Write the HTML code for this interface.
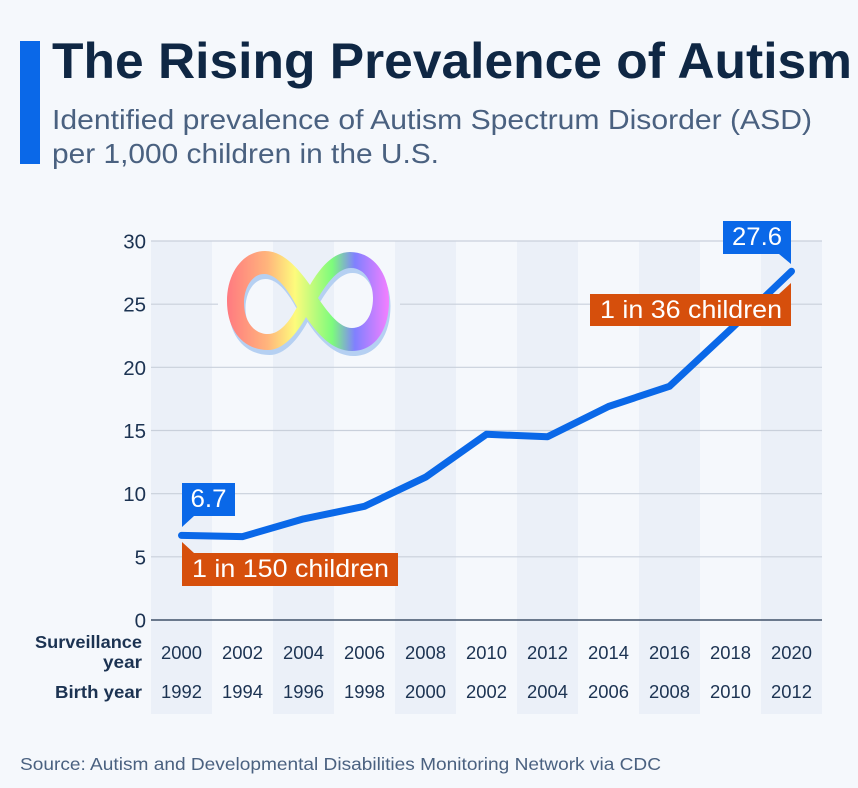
<!DOCTYPE html>
<html lang="en">
<head>
<meta charset="utf-8">
<title>The Rising Prevalence of Autism</title>
<style>
html,body{margin:0;padding:0;background:#f5f8fc;}
svg{display:block;font-family:"Liberation Sans",Arial,sans-serif;}
</style>
</head>
<body>
<svg id="chart" width="858" height="788" viewBox="0 0 858 788" xmlns="http://www.w3.org/2000/svg">
  <defs>
    <linearGradient id="rainbow" gradientUnits="userSpaceOnUse" x1="227" y1="0" x2="389" y2="0">
      <stop offset="0" stop-color="#ff7a80"/>
      <stop offset="0.25" stop-color="#ffb57c"/>
      <stop offset="0.42" stop-color="#fdfb7c"/>
      <stop offset="0.65" stop-color="#7dfb7c"/>
      <stop offset="0.79" stop-color="#8080ff"/>
      <stop offset="1" stop-color="#f480ff"/>
    </linearGradient>
  </defs>
  <rect x="0" y="0" width="858" height="788" fill="#f5f8fc"/>
  <rect x="20" y="41" width="20" height="123" fill="#0a68e8"/>
  <text x="52" y="78" font-size="50" font-weight="700" fill="#0f2744" textLength="800" lengthAdjust="spacingAndGlyphs">The Rising Prevalence of Autism</text>
  <text x="52" y="129" font-size="28" fill="#4a6180" textLength="760" lengthAdjust="spacingAndGlyphs">Identified prevalence of Autism Spectrum Disorder (ASD)</text>
  <text x="52" y="163" font-size="28" fill="#4a6180" textLength="387" lengthAdjust="spacingAndGlyphs">per 1,000 children in the U.S.</text>

  <g id="bands"></g>
  <g id="grid"></g>
  <g id="yticks"></g>
  <g id="xrows"></g>

  <text x="142" y="648" font-size="17.5" font-weight="700" fill="#1c3352" text-anchor="end" textLength="107" lengthAdjust="spacingAndGlyphs">Surveillance</text>
  <text x="142" y="668" font-size="17.5" font-weight="700" fill="#1c3352" text-anchor="end" textLength="39" lengthAdjust="spacingAndGlyphs">year</text>
  <text x="142" y="698" font-size="17.5" font-weight="700" fill="#1c3352" text-anchor="end" textLength="87" lengthAdjust="spacingAndGlyphs">Birth year</text>

  <g>
    <path fill="#b5d0f2" fill-rule="evenodd" transform="translate(1.5,5)" d="M310,285 C298,268 283,251 265,251 C243,251 227,273 227,301 C227,330 243,350 268,350 C283,350 296,335 306,317 C318,335 333,351 352,351 C375,351 389,330 389,301 C389,273 373,252 350,252 C333,252 320,268 310,285 Z M297,307 C288,290 277,274 264,274 C252,274 244,288 244,303 C244,320 253,334 268,334 C280,334 290,321 297,307 Z M318,298 C327,283 338,268 351,268 C365,268 373,283 373,298 C373,315 365,328 352,328 C340,328 329,314 318,298 Z"/>
    <path fill="url(#rainbow)" fill-rule="evenodd" d="M310,285 C298,268 283,251 265,251 C243,251 227,273 227,301 C227,330 243,350 268,350 C283,350 296,335 306,317 C318,335 333,351 352,351 C375,351 389,330 389,301 C389,273 373,252 350,252 C333,252 320,268 310,285 Z M297,307 C288,290 277,274 264,274 C252,274 244,288 244,303 C244,320 253,334 268,334 C280,334 290,321 297,307 Z M318,298 C327,283 338,268 351,268 C365,268 373,283 373,298 C373,315 365,328 352,328 C340,328 329,314 318,298 Z"/>
  </g>

  <path id="line" fill="none" stroke="#0a68e8" stroke-width="7" stroke-linejoin="round" stroke-linecap="round"/>

  <g>
    <path fill="#0a68e8" d="M182,483 H235 V516 H194 L182,527 Z"/>
    <text x="208.5" y="507" font-size="25" fill="#ffffff" text-anchor="middle" textLength="36" lengthAdjust="spacingAndGlyphs">6.7</text>
  </g>
  <g>
    <path fill="#d64f0c" d="M182,542 L194,553 H398 V586 H182 Z"/>
    <text x="192" y="577" font-size="25" fill="#ffffff" textLength="197" lengthAdjust="spacingAndGlyphs">1 in 150 children</text>
  </g>
  <g>
    <path fill="#0a68e8" d="M723,221 H791 V264 L779,254 H723 Z"/>
    <text x="757" y="245" font-size="25" fill="#ffffff" text-anchor="middle" textLength="50" lengthAdjust="spacingAndGlyphs">27.6</text>
  </g>
  <g>
    <path fill="#d64f0c" d="M590,294 H779 L791,283 V326 H590 Z"/>
    <text x="600" y="318" font-size="25" fill="#ffffff" textLength="182" lengthAdjust="spacingAndGlyphs">1 in 36 children</text>
  </g>

  <text x="20" y="770" font-size="17.5" fill="#4a6180" textLength="641" lengthAdjust="spacingAndGlyphs">Source: Autism and Developmental Disabilities Monitoring Network via CDC</text>
</svg>
<script>
const surveillanceYears = ["2000","2002","2004","2006","2008","2010","2012","2014","2016","2018","2020"];
const birthYears = ["1992","1994","1996","1998","2000","2002","2004","2006","2008","2010","2012"];
const prevalence = [6.7, 6.6, 8.0, 9.0, 11.3, 14.7, 14.5, 16.9, 18.5, 23.0, 27.6];
const yTickValues = [0, 5, 10, 15, 20, 25, 30];

const NS = "http://www.w3.org/2000/svg";
const plotLeft = 151, plotRight = 822, plotTop = 241, plotBottom = 620, bandBottom = 714;
const bandWidth = (plotRight - plotLeft) / surveillanceYears.length;
const yMax = 30;
const xScale = i => plotLeft + bandWidth * (i + 0.5);
const yScale = v => plotBottom - (v / yMax) * (plotBottom - plotTop);
const make = (tag, attrs) => {
  const el = document.createElementNS(NS, tag);
  Object.keys(attrs).forEach(k => el.setAttribute(k, attrs[k]));
  return el;
};

const bands = document.getElementById("bands");
surveillanceYears.forEach((year, i) => {
  if (i % 2 !== 0) return;
  const el = make("rect", {x: plotLeft + bandWidth * i, y: plotTop, width: bandWidth, height: bandBottom - plotTop, fill: "#ebf0f8"});
  
  
  bands.appendChild(el);
});

const grid = document.getElementById("grid");
const yticks = document.getElementById("yticks");
yTickValues.forEach(v => {
  const y = yScale(v);
  const isBase = v === 0;
  const stroke = isBase ? "#3f5068" : "#c9d0db";
  if (v === 25) {
    const a = make("line", {x1: plotLeft, x2: 218, y1: y, y2: y, stroke: stroke, "stroke-width": 1.2});
    
    
    grid.appendChild(a);
    const b = make("line", {x1: 400, x2: plotRight, y1: y, y2: y, stroke: stroke, "stroke-width": 1.2});
    
    
    grid.appendChild(b);
  } else {
    const l = make("line", {x1: plotLeft, x2: plotRight, y1: y, y2: y, stroke: stroke, "stroke-width": isBase ? 1.6 : 1.2});
    
    
    grid.appendChild(l);
  }
  const t = make("text", {x: 146, y: y + 7.5, "font-size": 20.5, fill: "#1c3352", "text-anchor": "end"});
  
  
  t.textContent = String(v);
  yticks.appendChild(t);
});

const xrows = document.getElementById("xrows");
surveillanceYears.forEach((year, i) => {
  const t = make("text", {x: xScale(i), y: 659, "font-size": 18.4, fill: "#1c3352", "text-anchor": "middle"});
  
  
  t.textContent = year;
  xrows.appendChild(t);
});
birthYears.forEach((year, i) => {
  const t = make("text", {x: xScale(i), y: 698, "font-size": 18.4, fill: "#1c3352", "text-anchor": "middle"});
  
  
  t.textContent = year;
  xrows.appendChild(t);
});

document.getElementById("line").setAttribute("d",
  prevalence.map((v, i) => (i ? "L" : "M") + xScale(i).toFixed(1) + "," + yScale(v).toFixed(1)).join(" "));
</script>
</body>
</html>
